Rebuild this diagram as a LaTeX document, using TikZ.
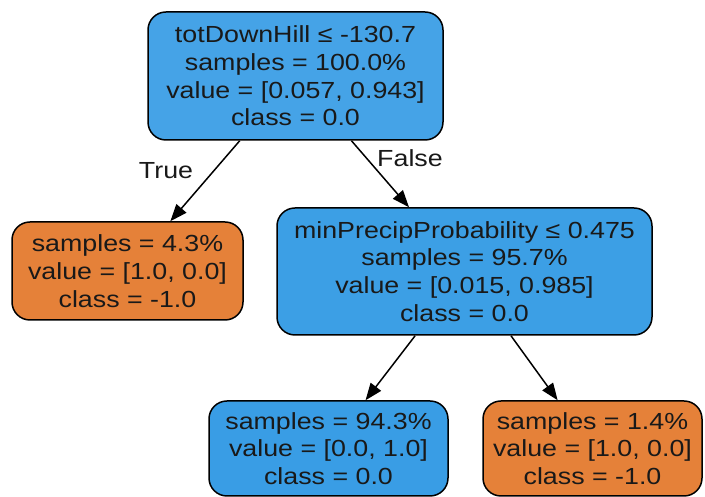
\documentclass[tikz,border=0pt]{standalone}
\usepackage{fontspec}
\setmainfont{Liberation Sans}[FakeStretch=1.15]
\usepackage{tikz}
\usetikzlibrary{arrows.meta}

\definecolor{rootblue}{HTML}{45A3E7}
\definecolor{midblue}{HTML}{3C9FE5}
\definecolor{leafblue}{HTML}{399DE5}
\definecolor{leaforange}{HTML}{E58139}

\tikzset{
  treenode/.style={draw=black, line width=1.5pt, rounded corners=18pt,
    align=center, inner sep=0pt, text=black!90,
    font={\fontsize{23.3}{27.7}\selectfont}},
  treeedge/.style={line width=1.5pt, -{Triangle[length=17pt,width=13pt]}},
  edgelabel/.style={font={\fontsize{23.3}{27.7}\selectfont}, text=black!90, inner sep=0pt}
}

\begin{document}
\begin{tikzpicture}[x=1pt, y=1pt]
    \useasboundingbox (0,0) rectangle (705,497);
    % split nodes
    \node[treenode, fill=rootblue, minimum width=295pt, minimum height=128pt] (root) at (295.5,421)
        {totDownHill ≤ -130.7\\samples = 100.0\%\\value = [0.057, 0.943]\\class = 0.0};
    \node[treenode, fill=midblue, minimum width=375pt, minimum height=127pt] (split) at (464.5,225.5)
        {minPrecipProbability ≤ 0.475\\samples = 95.7\%\\value = [0.015, 0.985]\\class = 0.0};
    % leaves
    \node[treenode, fill=leaforange, minimum width=231pt, minimum height=98pt] (leafA) at (127.5,226)
        {samples = 4.3\%\\value = [1.0, 0.0]\\class = -1.0};
    \node[treenode, fill=leafblue, minimum width=239pt, minimum height=95pt] (leafB) at (328.5,48.5)
        {samples = 94.3\%\\value = [0.0, 1.0]\\class = 0.0};
    \node[treenode, fill=leaforange, minimum width=219pt, minimum height=95pt] (leafC) at (592.5,48.5)
        {samples = 1.4\%\\value = [1.0, 0.0]\\class = -1.0};
    % edges
    \draw[treeedge] (root) -- (leafA);
    \draw[treeedge] (root) -- (split);
    \draw[treeedge] (split) -- (leafB);
    \draw[treeedge] (split) -- (leafC);
    \node[edgelabel] (truelbl) at (166,326) {True};
    \node[edgelabel] (falselbl) at (410,339) {False};
\end{tikzpicture}
\end{document}
